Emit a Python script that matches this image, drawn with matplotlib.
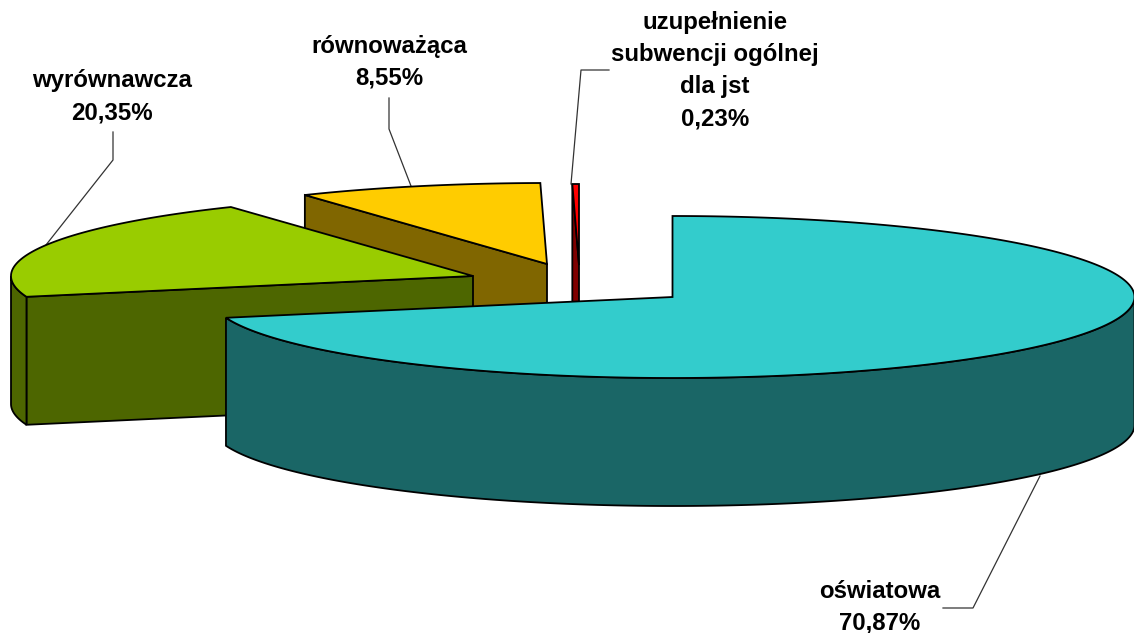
#!/usr/bin/env python3
"""Exploded 3D pie of the subvention shares, drawn on a pixel-sized axes."""

import numpy as np
import matplotlib
matplotlib.use("Agg")
import matplotlib.pyplot as plt

plt.rcParams["font.family"] = ["Liberation Sans", "DejaVu Sans"]

# clockwise from 12 o'clock
names = ["oświatowa", "wyrównawcza", "równoważąca", "uzupełnienie\nsubwencji ogólnej\ndla jst"]
shares = [70.87, 20.35, 8.55, 0.23]
share_labels = ["70,87%", "20,35%", "8,55%", "0,23%"]

top_colors = ["#33CCCC", "#99CC00", "#FFCC00", "#FF0000"]
side_colors = ["#1A6666", "#4D6600", "#806600", "#800000"]

RX, RY, DEPTH = 462, 81, 128
apexes = [(672.5, 297), (473, 276), (547, 264), (579, 265)]
label_pos = [(880, 607), (112, 97), (389, 62), (715, 71)]
leaders = [
    [(943, 608), (973, 608), (1040, 476)],
    [(113, 132), (113, 160), (42, 250)],
    [(389, 98), (389, 129), (411, 186)],
    [(609, 70), (581, 70), (571, 184)],
]


def rim(apex, a0, a1):
    deg = np.linspace(a0, a1, max(2, int(abs(a1 - a0) * 2)))
    rad = np.radians(deg)
    return apex[0] + RX * np.sin(rad), apex[1] - RY * np.cos(rad)


def draw_slice(ax, apex, a0, a1, top, side):
    # cut face at the start angle, only if it turns towards the viewer
    if np.cos(np.radians(a0 - 90)) < -1e-6:
        x, y = rim(apex, a0, a0)
        x0, y0 = x[0], y[0]
        ax.fill([apex[0], x0, x0, apex[0]], [apex[1], y0, y0 + DEPTH, apex[1] + DEPTH],
                facecolor=side, edgecolor="black", lw=1.3, zorder=ax.z)
        ax.z += 1
    # outer wall, front half of the ellipse
    w0, w1 = max(a0, 90), min(a1, 270)
    if w0 < w1:
        x, y = rim(apex, w0, w1)
        ax.fill(np.r_[x, x[::-1]], np.r_[y, y[::-1] + DEPTH],
                facecolor=side, edgecolor="black", lw=1.3, zorder=ax.z)
        ax.z += 1
    x, y = rim(apex, a0, a1)
    ax.fill(np.r_[apex[0], x], np.r_[apex[1], y],
            facecolor=top, edgecolor="black", lw=1.3, zorder=ax.z)
    ax.z += 1


fig = plt.figure(figsize=(11.34, 6.33), dpi=100)
ax = fig.add_axes([0, 0, 1, 1])
ax.set_xlim(0, 1134)
ax.set_ylim(633, 0)
ax.axis("off")
ax.z = 2

ends = np.cumsum(shares) / sum(shares) * 360
starts = np.r_[0, ends[:-1]]

# back to front
for i in [3, 2, 1, 0]:
    draw_slice(ax, apexes[i], starts[i], ends[i], top_colors[i], side_colors[i])

for pts in leaders:
    xs, ys = zip(*pts)
    ax.plot(xs, ys, color="#333333", lw=0.9, zorder=1)

for name, pct, pos in zip(names, share_labels, label_pos):
    ax.text(pos[0], pos[1], name + "\n" + pct, ha="center", va="center", fontsize=17.3,
            fontweight="bold", color="black", linespacing=1.5, zorder=20)

fig.savefig("out.png", dpi=100, facecolor="white")
